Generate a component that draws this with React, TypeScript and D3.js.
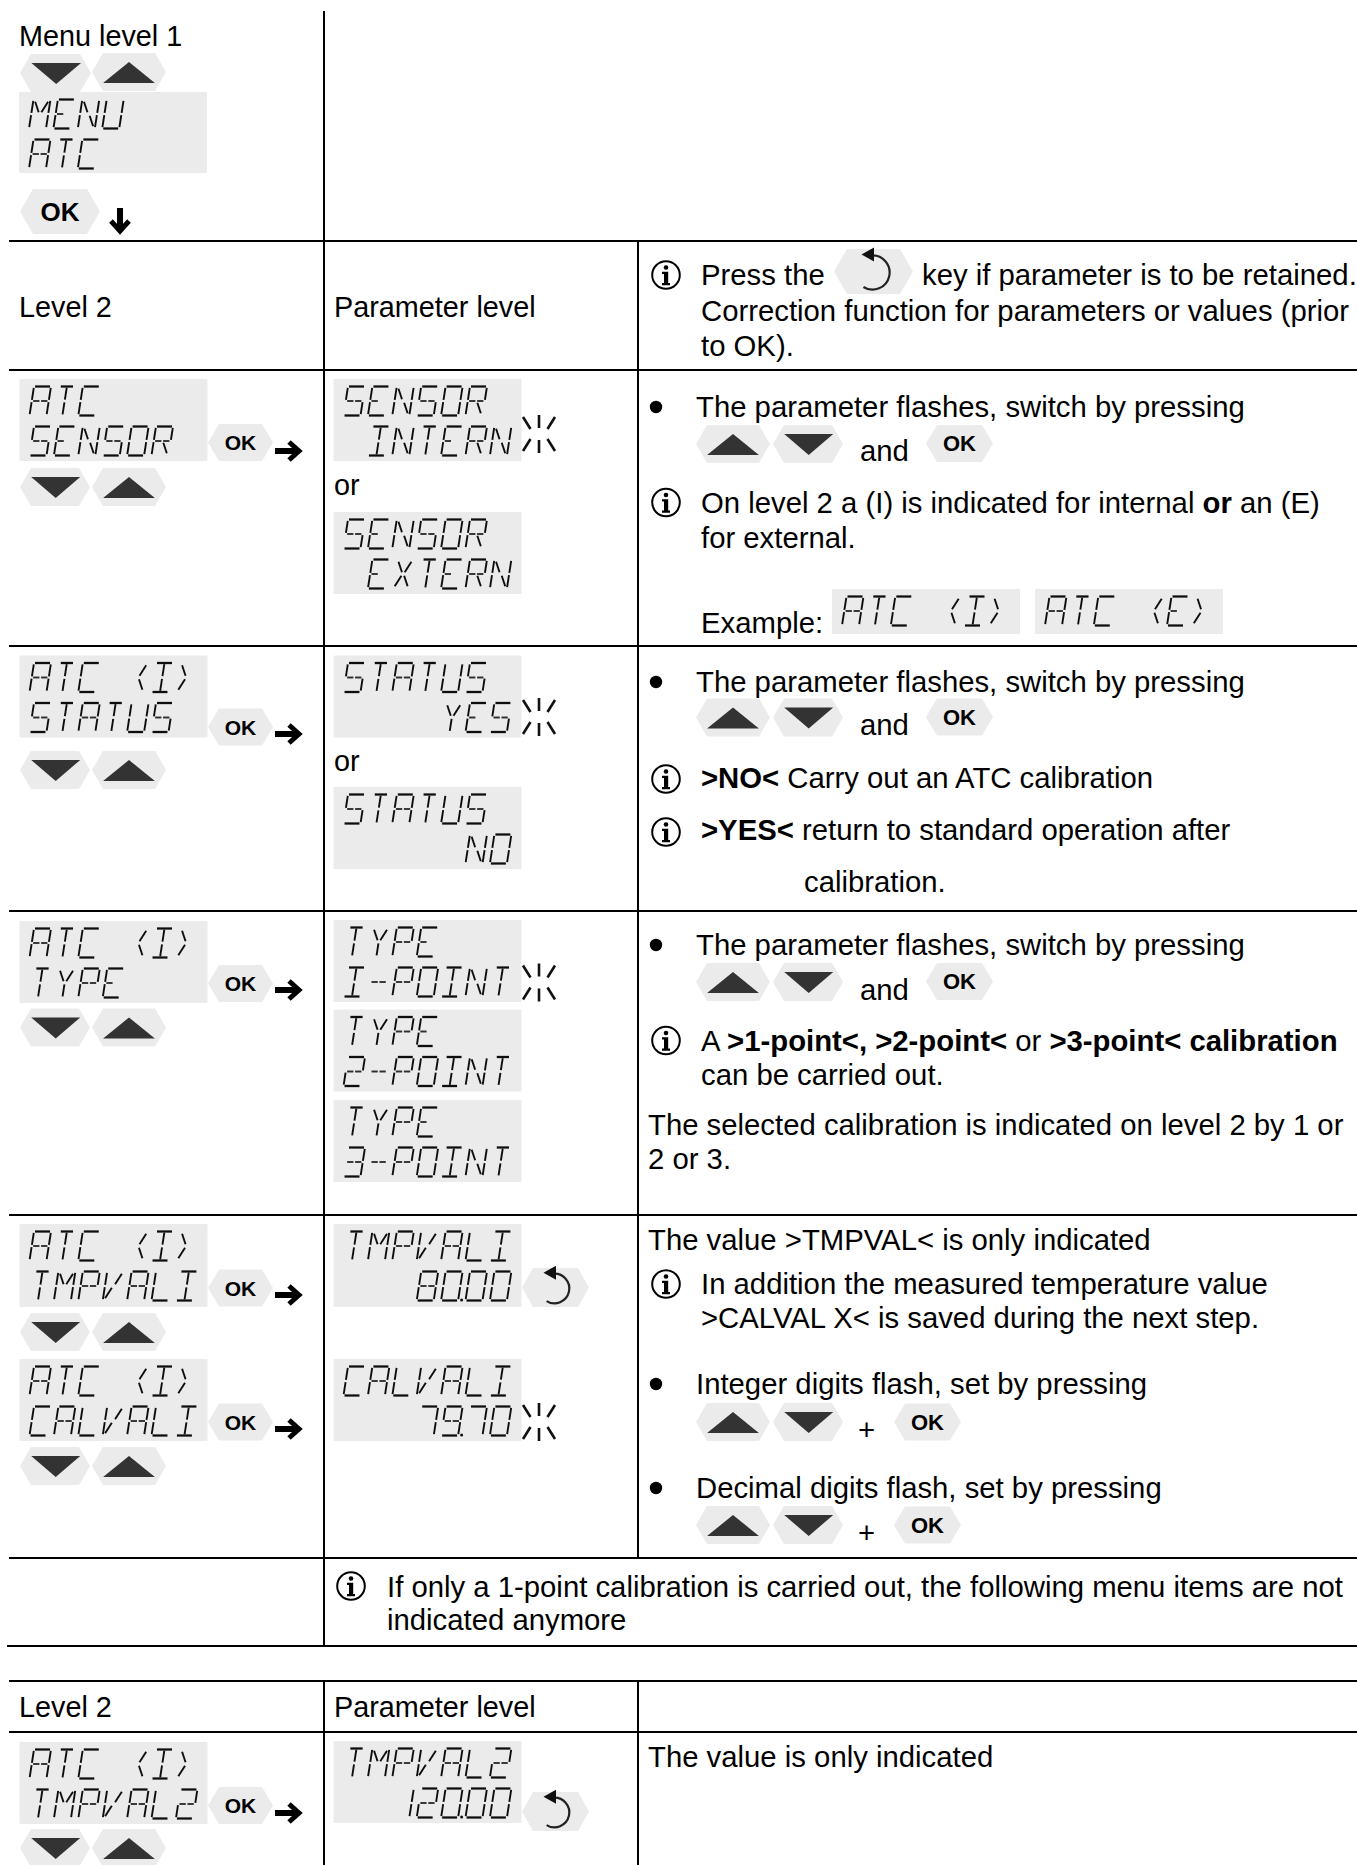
import React from 'react';
import * as d3 from 'd3';

// ---- text ----
const menuLabel = 'Menu level 1';
const levelLabels = ['Level 2', 'Parameter level'];
const orLabel = 'or';
const menuLcd = ['MENU', 'ATC'];
const sensorLcd = ['ATC', 'SENSOR'];
const sensorOptions = [['SENSOR', ' INTERN'], ['SENSOR', ' EXTERN']];
const statusLcd = ['ATC (I)', 'STATUS'];
const statusOptions = [['STATUS', '    YES'], ['STATUS', '     NO']];
const typeLcd = ['ATC (I)', 'TYPE'];
const typeOptions = [['TYPE', 'I-POINT'], ['TYPE', '2-POINT'], ['TYPE', '3-POINT']];
const tmpLcd = [['ATC (I)', 'TMPVALI'], ['TMPVALI', '   80.00']];
const calLcd = [['ATC (I)', 'CALVALI'], ['CALVALI', '   79.70']];
const tmp2Lcd = [['ATC (I)', 'TMPVAL2'], ['TMPVAL2', '  120.00']];
const exampleLcd = ['ATC (I)', 'ATC (E)'];

const keepNote = ['Press the', 'key if parameter is to be retained.', 'Correction function for parameters or values (prior', 'to OK).'];
const flashNote = 'The parameter flashes, switch by pressing';
const andLabel = 'and';
const sensorNote = ['On level 2 a (I) is indicated for internal ', 'or', ' an (E)', 'for external.', 'Example:'];
const statusNote = ['>NO<', ' Carry out an ATC calibration', '>YES<', ' return to standard operation after', 'calibration.'];
const typeNote = ['A ', '>1-point<, >2-point<', ' or ', '>3-point< calibration', 'can be carried out.', 'The selected calibration is indicated on level 2 by 1 or', '2 or 3.'];
const valueNote = ['The value >TMPVAL< is only indicated', 'In addition the measured temperature value', '>CALVAL X< is saved during the next step.', 'Integer digits flash, set by pressing', 'Decimal digits flash, set by pressing', '+'];
const skipNote = ['If only a 1-point calibration is carried out, the following menu items are not', 'indicated anymore'];
const tmp2Note = 'The value is only indicated';

// which segments of the display make up each character
const glyphs: Record<string, string> = {
  A: 'abcefgG', C: 'adef', E: 'adefg', I: 'adil', L: 'def', M: 'bcefhj', N: 'bcefhm',
  O: 'abcdef', P: 'abefgG', R: 'abefgGm', S: 'acdfgG', T: 'nil', U: 'bcdef', V: 'efkj', X: 'hjkm', Y: 'hjl',
  '(': 'jm', ')': 'hk', '-': 'gG', '0': 'abcdef', '1': 'bc', '2': 'abdegG', '3': 'abcdgG', '7': 'abc', '8': 'abcdefgG', '9': 'abcdfgG',
};

const segments: Record<string, [number, number][]> = {
  a: [[0.06, 0], [0.94, 0]], d: [[0.06, 1], [0.94, 1]], n: [[0.14, 0], [0.86, 0]],
  b: [[1, 0.05], [1, 0.46]], c: [[1, 0.54], [1, 0.95]],
  f: [[0, 0.05], [0, 0.46]], e: [[0, 0.54], [0, 0.95]],
  g: [[0.08, 0.5], [0.45, 0.5]], G: [[0.55, 0.5], [0.92, 0.5]],
  h: [[0.12, 0.08], [0.42, 0.44]], i: [[0.5, 0.04], [0.5, 0.45]], j: [[0.88, 0.08], [0.58, 0.44]],
  k: [[0.42, 0.56], [0.12, 0.92]], l: [[0.5, 0.55], [0.5, 0.96]], m: [[0.58, 0.56], [0.88, 0.92]],
};

const FONT = '"Liberation Sans", Arial, sans-serif';
const FS = 29.3;
const FS_LEFT = 28.8;
const GREY = '#ebebeb';
const DARK = '#333333';

const Lcd = ({ x, y, lines, h = 82, w = 188 }: any) => {
  const pitch = 24.4;
  return (
    <g>
      <rect x={x} y={y} width={w} height={h} fill={GREY} rx={1} />
      {lines.map((line: string, li: number) => {
        // a dot takes no column of its own, it sits on the digit before it
        const cells: { c: string; dot: boolean }[] = [];
        for (const c of line) {
          if (c === '.') cells[cells.length - 1].dot = true;
          else cells.push({ c, dot: false });
        }
        const top = y + 7.5 + li * 40;
        return (
          <g key={li} filter="url(#soft)">
            <text x={x + 10} y={top + 29} fontFamily={FONT} fontSize={20} fillOpacity={0}>{line}</text>
            {cells.map((cell, ci) => {
              const x0 = x + 10 + ci * pitch;
              const sx = d3.scaleLinear().domain([0, 1]).range([0, 17]);
              const sy = d3.scaleLinear().domain([0, 1]).range([top, top + 29]);
              const seg = d3.line<[number, number]>()
                .x(d => x0 + sx(d[0]) + (1 - d[1]) * 4.5)
                .y(d => sy(d[1]));
              return (
                <g key={ci}>
                  {(glyphs[cell.c] || '').split('').map(s => (
                    <path key={s} d={seg(segments[s]) || ''} fill="none" stroke="#111"
                      strokeWidth={s === 'a' || s === 'd' || s === 'n' ? 2.3 : 1.9} opacity={s === 'g' || s === 'G' ? 0.85 : 1} />
                  ))}
                  {cell.dot && <circle cx={x0 + sx(1) + 3.5} cy={sy(1) - 0.5} r={1.5} fill="#111" />}
                </g>
              );
            })}
          </g>
        );
      })}
    </g>
  );
};

const Hex = ({ x0, x1, y0, y1, cut = 11 }: any) => {
  const mid = (y0 + y1) / 2;
  const pts: [number, number][] = [[x0, mid], [x0 + cut, y0], [x1 - cut, y0], [x1, mid], [x1 - cut, y1], [x0 + cut, y1]];
  return <path d={(d3.line()(pts) || '') + 'Z'} fill={GREY} />;
};

const KeyDown = ({ x, y, w = 70 }: any) => {
  const pts: [number, number][] = [[x + w * 0.16, y + 9], [x + w * 0.86, y + 9], [x + w * 0.51, y + 30]];
  return (
    <g>
      <Hex x0={x} x1={x + w} y0={y} y1={y + 38} />
      <path d={(d3.line()(pts) || '') + 'Z'} fill={DARK} />
    </g>
  );
};

const KeyUp = ({ x, y, w = 74 }: any) => {
  const pts: [number, number][] = [[x + w * 0.15, y + 30], [x + w * 0.85, y + 30], [x + w * 0.5, y + 9]];
  return (
    <g>
      <Hex x0={x} x1={x + w} y0={y} y1={y + 38} />
      <path d={(d3.line()(pts) || '') + 'Z'} fill={DARK} />
    </g>
  );
};

const KeyOk = ({ x0 = 208, x1 = 273, y, size = 21 }: any) => (
  <g>
    <Hex x0={x0} x1={x1} y0={y} y1={y + 37} />
    <text x={(x0 + x1) / 2} y={y + 18.5 + size * 0.36} textAnchor="middle" fontFamily={FONT} fontWeight="bold" fontSize={size}>OK</text>
  </g>
);

const KeyBack = ({ x0 = 522, x1 = 589, y, h = 39, cut = 11 }: any) => {
  const cx = (x0 + x1) / 2 - 1;
  const cy = y + h / 2 + 1;
  const r = h * 0.38;
  const arc = d3.arc()({ innerRadius: r, outerRadius: r, startAngle: -0.1, endAngle: 3.7 } as any) || '';
  const head: [number, number][] = [[cx - 11, cy - r - 1], [cx + 1.5, cy - r - 8], [cx + 1.5, cy - r + 6]];
  return (
    <g>
      <Hex x0={x0} x1={x1} y0={y} y1={y + h} cut={cut} />
      <path d={arc} transform={`translate(${cx},${cy})`} fill="none" stroke="#222" strokeWidth={2.2} />
      <path d={(d3.line()(head) || '') + 'Z'} fill="#111" />
    </g>
  );
};

const ArrowRight = ({ x = 275, y }: any) => {
  const shaft: [number, number][] = [[x, y], [x + 22, y]];
  const head: [number, number][] = [[x + 14, y - 9], [x + 24, y], [x + 14, y + 9]];
  return (
    <g fill="none" stroke="#000">
      <path d={d3.line()(shaft) || ''} strokeWidth={6} />
      <path d={d3.line()(head) || ''} strokeWidth={5} />
    </g>
  );
};

const ArrowDown = ({ x, y }: any) => {
  const shaft: [number, number][] = [[x, y], [x, y + 20]];
  const head: [number, number][] = [[x - 9, y + 13], [x, y + 23], [x + 9, y + 13]];
  return (
    <g fill="none" stroke="#000">
      <path d={d3.line()(shaft) || ''} strokeWidth={6} />
      <path d={d3.line()(head) || ''} strokeWidth={5} />
    </g>
  );
};

const Burst = ({ x = 539, y }: any) => (
  <g stroke="#111" strokeWidth={2.6}>
    {[[0, -19, 0, -6], [0, 6, 0, 19], [-16, -17, -8.5, -5], [16, -17, 8.5, -5], [-16, 17, -8.5, 5], [16, 17, 8.5, 5]].map((s, i) => (
      <line key={i} x1={x + s[0]} y1={y + s[1]} x2={x + s[2]} y2={y + s[3]} />
    ))}
  </g>
);

const Info = ({ x = 666, y }: any) => (
  <g>
    <circle cx={x} cy={y} r={13.8} fill="none" stroke="#000" strokeWidth={2} />
    <circle cx={x} cy={y - 7.5} r={2.3} />
    <path d={`M${x - 4} ${y - 3.2}H${x + 2.2}V${y + 8}H${x + 4}V${y + 10.2}H${x - 4}V${y + 8}H${x - 2}V${y - 1}H${x - 4}Z`} />
  </g>
);

const Bullet = ({ y }: any) => <circle cx={656} cy={y} r={6.2} />;

const T = ({ x, y, size = FS, children, ...rest }: any) => (
  <text x={x} y={y} fontFamily={FONT} fontSize={size} fill="#000" {...rest}>{children}</text>
);

const B = ({ children }: any) => <tspan fontWeight="bold">{children}</tspan>;

// up and down keys in the right hand column
const PressKeys = ({ y }: any) => (
  <g>
    <KeyUp x={696} y={y} w={74} />
    <KeyDown x={773} y={y} w={70} />
  </g>
);

const NavKeys = ({ y }: any) => (
  <g>
    <KeyDown x={20} y={y} w={70} />
    <KeyUp x={92} y={y} w={74} />
  </g>
);

const App = () => {
  const hLines: [number, number, number][] = [
    [9, 1357, 241], [9, 1357, 370], [9, 1357, 646], [9, 1357, 911], [9, 1357, 1215],
    [9, 1357, 1558], [7, 1357, 1646], [9, 1357, 1681], [9, 1357, 1732],
  ];
  const vLines: [number, number, number][] = [
    [324, 11, 1646], [638, 241, 1558], [324, 1681, 1865], [638, 1681, 1865],
  ];
  return (
    <svg width={1357} height={1865} style={{ position: 'absolute', left: 0, top: 0, display: 'block', background: '#fff' }}>
      <defs>
        <filter id="soft" x="-5%" y="-20%" width="110%" height="140%">
          <feGaussianBlur stdDeviation={0.4} />
        </filter>
      </defs>
      {hLines.map((l, i) => <line key={i} x1={l[0]} x2={l[1]} y1={l[2]} y2={l[2]} stroke="#000" strokeWidth={2} />)}
      {vLines.map((l, i) => <line key={i} x1={l[0]} x2={l[0]} y1={l[1]} y2={l[2]} stroke="#000" strokeWidth={2} />)}

      {/* menu level 1 */}
      <T x={19} y={46} size={FS_LEFT}>{menuLabel}</T>
      <KeyDown x={20} y={54} w={71} />
      <KeyUp x={92} y={53} w={74} />
      <Lcd x={19} y={92} lines={menuLcd} h={81} />
      <Hex x0={20} x1={100} y0={189} y1={234} cut={13} />
      <text x={60} y={221} textAnchor="middle" fontFamily={FONT} fontWeight="bold" fontSize={26}>OK</text>
      <ArrowDown x={120} y={208} />

      {/* header row */}
      <T x={19} y={317} size={FS_LEFT}>{levelLabels[0]}</T>
      <T x={334} y={317} size={FS_LEFT}>{levelLabels[1]}</T>
      <Info y={275} />
      <T x={701} y={285}>{keepNote[0]}</T>
      <KeyBack x0={834} x1={913} y={249} h={45} cut={13} />
      <T x={922} y={285}>{keepNote[1]}</T>
      <T x={701} y={321}>{keepNote[2]}</T>
      <T x={701} y={356}>{keepNote[3]}</T>

      {/* sensor row */}
      <Lcd x={19.5} y={379} lines={sensorLcd} />
      <KeyOk y={424} />
      <ArrowRight y={451} />
      <NavKeys y={468} />
      <Lcd x={333.5} y={379} lines={sensorOptions[0]} />
      <Burst y={434} />
      <T x={334} y={495} size={FS_LEFT}>{orLabel}</T>
      <Lcd x={333.5} y={512} lines={sensorOptions[1]} />
      <Bullet y={407} />
      <T x={696} y={417}>{flashNote}</T>
      <PressKeys y={425} />
      <T x={860} y={461}>{andLabel}</T>
      <KeyOk x0={926} x1={993} y={425} size={22} />
      <Info y={502.5} />
      <T x={701} y={513}>{sensorNote[0]}<B>{sensorNote[1]}</B>{sensorNote[2]}</T>
      <T x={701} y={548}>{sensorNote[3]}</T>
      <T x={701} y={633}>{sensorNote[4]}</T>
      <Lcd x={832} y={589} lines={[exampleLcd[0]]} h={45} />
      <Lcd x={1035} y={589} lines={[exampleLcd[1]]} h={45} />

      {/* status row */}
      <Lcd x={19.5} y={655.5} lines={statusLcd} />
      <KeyOk y={708.5} />
      <ArrowRight y={734} />
      <NavKeys y={751} />
      <Lcd x={333.5} y={655.5} lines={statusOptions[0]} />
      <Burst y={717} />
      <T x={334} y={771} size={FS_LEFT}>{orLabel}</T>
      <Lcd x={333.5} y={787} lines={statusOptions[1]} />
      <Bullet y={682} />
      <T x={696} y={692}>{flashNote}</T>
      <PressKeys y={698.5} />
      <T x={860} y={735}>{andLabel}</T>
      <KeyOk x0={926} x1={993} y={698.5} size={22} />
      <Info y={779} />
      <T x={701} y={788}><B>{statusNote[0]}</B>{statusNote[1]}</T>
      <Info y={832} />
      <T x={701} y={840}><B>{statusNote[2]}</B>{statusNote[3]}</T>
      <T x={804} y={892}>{statusNote[4]}</T>

      {/* type row */}
      <Lcd x={19.5} y={921} lines={typeLcd} />
      <KeyOk y={965} />
      <ArrowRight y={990} />
      <NavKeys y={1008.5} />
      <Lcd x={333.5} y={920} lines={typeOptions[0]} />
      <Burst y={982.5} />
      <Lcd x={333.5} y={1009.5} lines={typeOptions[1]} />
      <Lcd x={333.5} y={1100} lines={typeOptions[2]} />
      <Bullet y={945} />
      <T x={696} y={955}>{flashNote}</T>
      <PressKeys y={963} />
      <T x={860} y={1000}>{andLabel}</T>
      <KeyOk x0={926} x1={993} y={963} size={22} />
      <Info y={1040.5} />
      <T x={701} y={1051}>{typeNote[0]}<B>{typeNote[1]}</B>{typeNote[2]}<B>{typeNote[3]}</B></T>
      <T x={701} y={1085}>{typeNote[4]}</T>
      <T x={648} y={1135}>{typeNote[5]}</T>
      <T x={648} y={1169}>{typeNote[6]}</T>

      {/* value rows */}
      <Lcd x={19.5} y={1224} lines={tmpLcd[0]} h={83} />
      <KeyOk y={1269.5} />
      <ArrowRight y={1295} />
      <NavKeys y={1313} />
      <Lcd x={19.5} y={1359} lines={calLcd[0]} />
      <KeyOk y={1403.5} />
      <ArrowRight y={1429} />
      <NavKeys y={1447} />
      <Lcd x={333.5} y={1224} lines={tmpLcd[1]} h={83} />
      <KeyBack y={1268} />
      <Lcd x={333.5} y={1359} lines={calLcd[1]} />
      <Burst y={1422} />
      <T x={648} y={1250}>{valueNote[0]}</T>
      <Info y={1284} />
      <T x={701} y={1294}>{valueNote[1]}</T>
      <T x={701} y={1328}>{valueNote[2]}</T>
      <Bullet y={1384} />
      <T x={696} y={1394}>{valueNote[3]}</T>
      <PressKeys y={1403} />
      <T x={858} y={1440}>{valueNote[5]}</T>
      <KeyOk x0={894} x1={961} y={1403.5} size={22} />
      <Bullet y={1488} />
      <T x={696} y={1498}>{valueNote[4]}</T>
      <PressKeys y={1506} />
      <T x={858} y={1543}>{valueNote[5]}</T>
      <KeyOk x0={894} x1={961} y={1506.5} size={22} />

      {/* one point note */}
      <Info x={351} y={1586} />
      <T x={387} y={1597}>{skipNote[0]}</T>
      <T x={387} y={1630}>{skipNote[1]}</T>

      {/* second table */}
      <T x={19} y={1717} size={FS_LEFT}>{levelLabels[0]}</T>
      <T x={334} y={1717} size={FS_LEFT}>{levelLabels[1]}</T>
      <Lcd x={19.5} y={1742} lines={tmp2Lcd[0]} />
      <KeyOk y={1787} />
      <ArrowRight y={1813} />
      <NavKeys y={1829} />
      <Lcd x={333.5} y={1741} lines={tmp2Lcd[1]} />
      <KeyBack y={1792} />
      <T x={648} y={1767}>{tmp2Note}</T>
    </svg>
  );
};

export default App;
